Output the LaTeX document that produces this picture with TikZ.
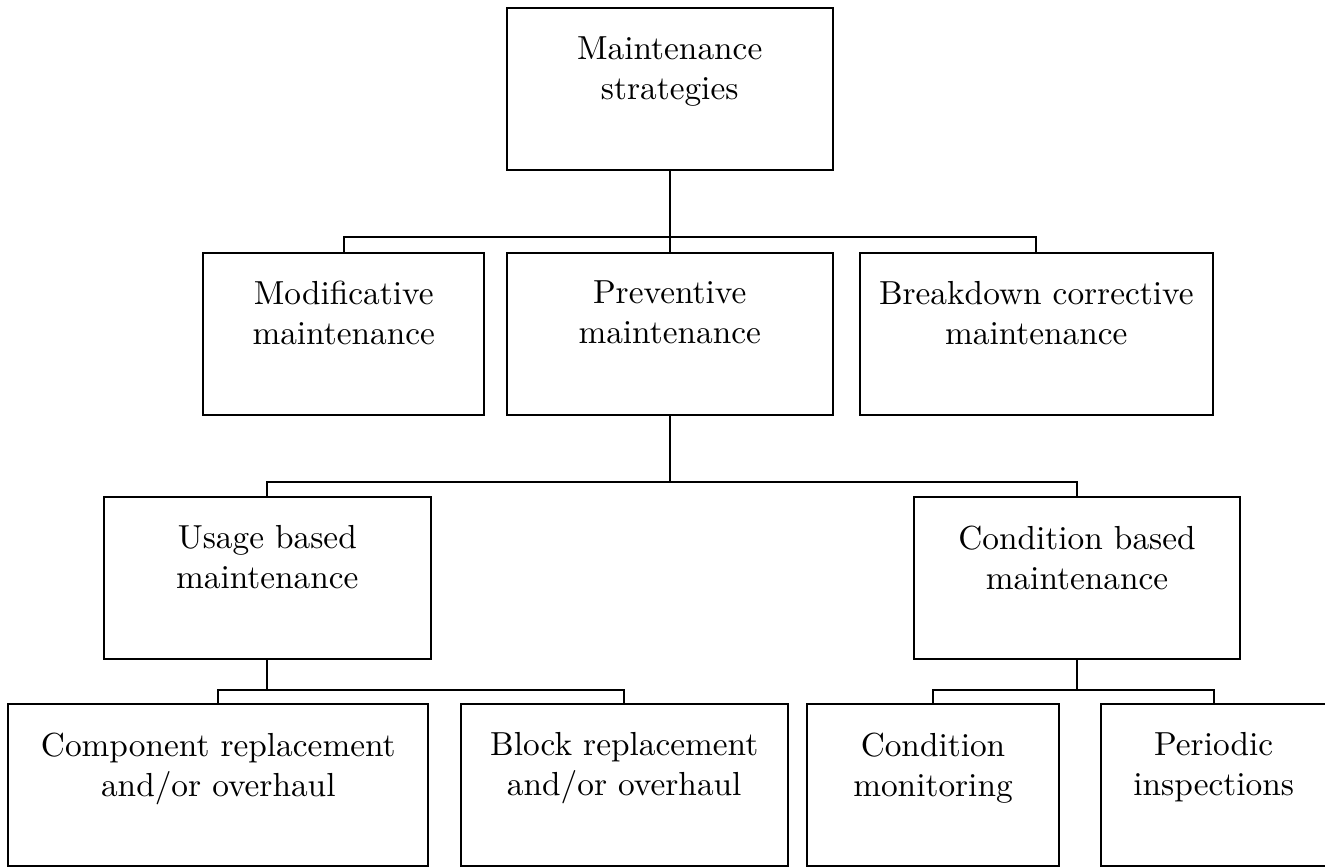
\documentclass[tikz,border=0pt]{standalone}
\begin{document}
\begin{tikzpicture}[x=0.3pt,y=-0.3pt,
  box/.style={draw, line width=0.6pt, rectangle, inner sep=0pt, minimum height=48.6pt},
  lbl/.style={anchor=north, align=center, inner sep=0pt, yshift=-8.6pt},
  conn/.style={line width=0.6pt}]
\useasboundingbox (0,0) rectangle (1325,867);
% level 1
\node[box, minimum width=97.8pt, label={[lbl]north:Maintenance\\strategies}] (root) at (669.7,89.3) {};
% level 2
\node[box, minimum width=84.2pt, label={[lbl]north:Modificative\\maintenance}] (mod) at (343.7,333.7) {};
\node[box, minimum width=97.8pt, label={[lbl]north:Preventive\\maintenance}] (prev) at (669.7,333.7) {};
\node[box, minimum width=105.8pt, label={[lbl]north:Breakdown corrective\\maintenance}] (brk) at (1036.3,333.7) {};
% level 3
\node[box, minimum width=98pt, label={[lbl]north:Usage based\\maintenance}] (usage) at (267.3,578.3) {};
\node[box, minimum width=97.8pt, label={[lbl]north:Condition based\\maintenance}] (cond) at (1077,578.3) {};
% level 4
\node[box, minimum width=126pt, label={[lbl]north:Component replacement\\and/or overhaul}] (comp) at (218.3,785.3) {};
\node[box, minimum width=98.1pt, label={[lbl]north:Block replacement\\and/or overhaul}] (block) at (624.2,785.3) {};
\node[box, minimum width=75.8pt, label={[lbl]north:Condition\\monitoring}] (cm) at (933,785.3) {};
\node[box, minimum width=67.5pt, label={[lbl]north:Periodic\\inspections}] (per) at (1213.7,785.3) {};
% connectors
\draw[conn] (mod.north) -- ++(0,-14.2) -| (root.south);
\draw[conn] (prev.north) -- (root.south);
\draw[conn] (brk.north) -- ++(0,-14.2) -| (root.south);
\draw[conn] (usage.north) -- ++(0,-14) -| (prev.south);
\draw[conn] (cond.north) -- ++(0,-14) -| (prev.south);
\draw[conn] (comp.north) -- ++(0,-13.8) -| (usage.south);
\draw[conn] (block.north) -- ++(0,-13.8) -| (usage.south);
\draw[conn] (cm.north) -- ++(0,-13.8) -| (cond.south);
\draw[conn] (per.north) -- ++(0,-13.8) -| (cond.south);
\end{tikzpicture}
\end{document}
